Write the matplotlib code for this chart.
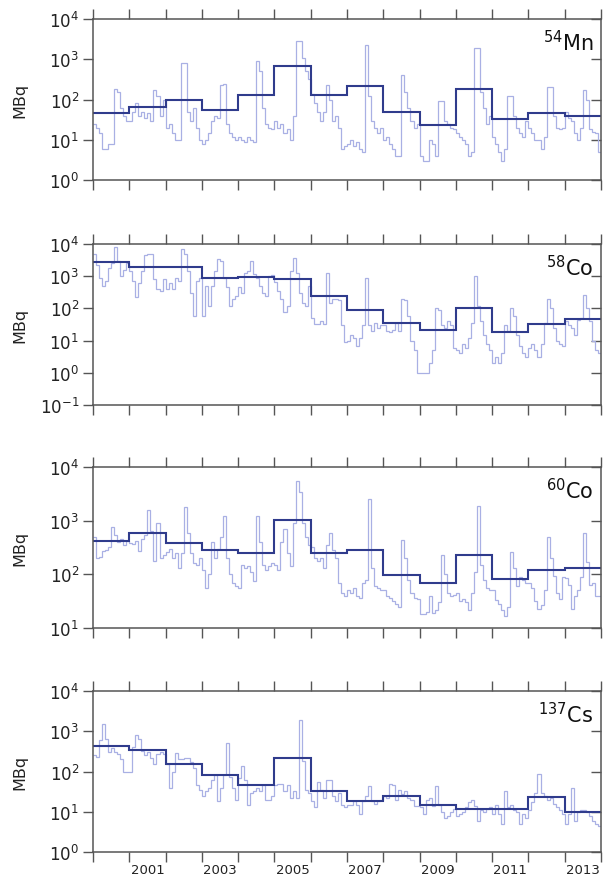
import numpy as np
import matplotlib
matplotlib.use("Agg")
import matplotlib.pyplot as plt
from matplotlib.ticker import LogLocator, FixedLocator, NullFormatter

# data (MBq)
years = list(range(2000, 2014))

# 54Mn
mn54_monthly = [
    25, 20, 15, 6, 6, 8, 8, 180, 150, 60, 40, 30,          # 2000
    30, 50, 80, 40, 50, 35, 45, 30, 170, 120, 40, 100,     # 2001
    20, 25, 15, 10, 10, 800, 800, 50, 30, 60, 20, 10,      # 2002
    8, 10, 15, 30, 40, 35, 230, 240, 25, 15, 12, 10,       # 2003
    12, 10, 9, 12, 10, 9, 900, 500, 60, 25, 20, 18,        # 2004
    30, 20, 25, 15, 18, 10, 40, 2900, 2800, 1100, 500, 330,  # 2005
    140, 80, 50, 30, 50, 230, 100, 30, 40, 20, 6, 7,       # 2006
    8, 10, 7, 9, 6, 5, 2300, 120, 30, 20, 15, 20,          # 2007
    10, 12, 8, 6, 4, 4, 400, 150, 60, 30, 20, 25,          # 2008
    4, 3, 3, 10, 8, 4, 90, 90, 30, 25, 20, 18,             # 2009
    15, 12, 10, 8, 4, 5, 1900, 1900, 150, 60, 25, 40,      # 2010
    12, 8, 5, 3, 6, 120, 120, 40, 20, 15, 12, 30,          # 2011
    20, 15, 10, 10, 6, 12, 200, 200, 40, 20, 18, 20,       # 2012
    50, 35, 30, 15, 10, 20, 170, 100, 18, 16, 15, 5,       # 2013
]
mn54_annual = [45, 65, 95, 56, 130, 680, 130, 220, 50, 23, 180, 32, 45, 40]

# 58Co
co58_monthly = [
    5000, 2200, 900, 500, 700, 1800, 2500, 8000, 3000, 1000, 1600, 2500,
    1500, 700, 220, 600, 1500, 4500, 5000, 5000, 800, 400, 350, 800,
    400, 600, 400, 900, 700, 7000, 5000, 1500, 300, 60, 700, 900,
    60, 500, 120, 500, 1500, 3500, 3000, 900, 450, 120, 200, 250,
    450, 300, 1300, 1400, 3000, 1200, 900, 500, 300, 250, 1000, 1100,
    650, 350, 200, 80, 120, 1400, 3800, 1300, 300, 150, 120, 500,
    50, 33, 33, 40, 33, 1300, 150, 200, 200, 180, 30, 9,
    10, 15, 12, 7, 12, 30, 900, 30, 20, 35, 25, 30,
    30, 20, 18, 22, 35, 20, 200, 180, 60, 10, 5, 1,
    1, 1, 1, 2, 5, 100, 90, 30, 25, 40, 30, 6,
    5, 4, 8, 6, 12, 35, 1000, 120, 40, 15, 8, 5,
    2, 3, 2, 4, 30, 20, 100, 60, 15, 7, 4, 3,
    6, 8, 5, 3, 8, 35, 200, 100, 25, 10, 8, 7,
    40, 30, 25, 15, 45, 50, 270, 100, 40, 10, 5, 4,
]
co58_annual = [2800, 1900, 1950, 850, 960, 790, 250, 90, 35, 22, 100, 19, 32, 47]

# 60Co
co60_monthly = [
    500, 200, 210, 270, 290, 320, 750, 550, 400, 450, 350, 420,
    380, 360, 420, 270, 450, 550, 1600, 650, 180, 900, 200, 230,
    260, 300, 200, 250, 130, 250, 1800, 600, 250, 160, 150, 200,
    120, 55, 100, 400, 200, 300, 500, 1200, 200, 100, 70, 60,
    55, 150, 130, 140, 110, 75, 1200, 400, 150, 120, 140, 160,
    150, 120, 400, 700, 250, 140, 900, 5400, 3400, 900, 500, 350,
    330, 200, 180, 200, 130, 350, 600, 280, 200, 70, 44, 40,
    50, 45, 55, 40, 37, 70, 80, 2500, 130, 60, 55, 50,
    50, 40, 37, 32, 28, 25, 430, 200, 80, 45, 37, 35,
    18, 18, 20, 40, 19, 22, 30, 230, 100, 45, 40, 42,
    45, 32, 35, 30, 22, 45, 110, 1900, 150, 80, 55, 50,
    50, 33, 28, 22, 17, 25, 260, 130, 60, 90, 80, 70,
    70, 55, 32, 23, 27, 50, 500, 200, 95, 45, 35, 90,
    85, 62, 23, 40, 50, 90, 600, 170, 62, 70, 40, 40,
]
co60_annual = [410, 580, 380, 280, 250, 1050, 250, 280, 96, 68, 230, 83, 123, 134]

# 137Cs
cs137_monthly = [
    250, 230, 600, 1500, 650, 300, 380, 300, 280, 200, 100, 100,
    100, 400, 830, 650, 320, 250, 300, 220, 150, 280, 300, 280,
    150, 40, 100, 290, 200, 210, 220, 220, 170, 120, 45, 35,
    25, 32, 40, 60, 80, 18, 40, 80, 510, 75, 40, 20,
    70, 135, 60, 15, 30, 33, 40, 33, 45, 20, 20, 25,
    45, 48, 50, 33, 45, 22, 33, 22, 1950, 180, 35, 30,
    18, 13, 55, 35, 22, 60, 60, 25, 18, 30, 15, 13,
    15, 15, 18, 15, 9, 18, 25, 44, 18, 16, 18, 20,
    25, 22, 49, 45, 20, 35, 28, 33, 22, 20, 14, 14,
    13, 9, 20, 22, 14, 44, 15, 10, 7, 8, 10, 12,
    8, 9, 10, 13, 17, 20, 14, 6, 11, 10, 12, 13,
    9, 15, 9, 5, 33, 13, 15, 11, 10, 5, 9, 7,
    11, 17, 30, 86, 30, 24, 20, 22, 16, 13, 11, 9,
    5, 9, 40, 6, 10, 11, 11, 10, 8, 6, 5, 4.5,
]
cs137_annual = [425, 340, 150, 80, 46, 220, 33, 18, 25, 15, 12, 11.5, 23, 10]

panels = [
    (r"$^{54}$Mn", mn54_monthly, mn54_annual, (1e0, 1e4)),
    (r"$^{58}$Co", co58_monthly, co58_annual, (1e-1, 1e4)),
    (r"$^{60}$Co", co60_monthly, co60_annual, (1e1, 1e4)),
    (r"$^{137}$Cs", cs137_monthly, cs137_annual, (1e0, 1e4)),
]

year_edges = np.array(years + [years[-1] + 1], dtype=float)
month_edges = years[0] + np.arange(len(years) * 12 + 1) / 12.0
label_years = [y for y in years if y % 2 == 1]

W, H = 605, 878
fig = plt.figure(figsize=(W / 100, H / 100), dpi=100)
tops = [20, 245, 468, 692]
ax_h = 161
left, right = 93, 601

light = "#a9b0e4"
dark = "#2f3b8c"
spine_col = "#555555"

for i, (name, monthly, annual, ylim) in enumerate(panels):
    ax = fig.add_axes([left / W, 1 - (tops[i] + ax_h) / H, (right - left) / W, ax_h / H])
    ax.stairs(monthly, month_edges, baseline=None, color=light, lw=0.9)
    ax.stairs(annual, year_edges, baseline=None, color=dark, lw=1.5)
    ax.set_yscale("log")
    ax.set_ylim(*ylim)
    ax.set_xlim(year_edges[0], year_edges[-1])
    ax.yaxis.set_major_locator(LogLocator(base=10, numticks=10))
    ax.yaxis.set_minor_locator(FixedLocator([]))
    ax.xaxis.set_major_locator(FixedLocator(year_edges))
    ax.xaxis.set_major_formatter(NullFormatter())
    for s in ax.spines.values():
        s.set_color(spine_col)
        s.set_linewidth(1.1)
    ax.tick_params(axis="x", which="major", direction="out", length=7, width=1.0,
                   color=spine_col, top=True, bottom=True)
    ax.tick_params(axis="y", which="major", direction="out", length=7, width=1.0,
                   color=spine_col, labelsize=12, pad=3, labelcolor="#222222")
    # inward ticks on the right side
    sec = ax.secondary_yaxis("right")
    sec.yaxis.set_major_locator(LogLocator(base=10, numticks=10))
    sec.yaxis.set_minor_locator(FixedLocator([]))
    sec.yaxis.set_major_formatter(NullFormatter())
    sec.tick_params(direction="in", length=7, width=1.0, color=spine_col)
    sec.spines["right"].set_visible(False)
    ax.set_ylabel("MBq", fontsize=11.5, color="#222222")
    ax.yaxis.set_label_coords(-0.13, 0.5)
    ax.text(0.985, 0.94, name, transform=ax.transAxes, ha="right", va="top",
            fontsize=15, color="#111111")
    if i == len(panels) - 1:
        ax.set_xticks([y + 0.5 for y in label_years], [str(y) for y in label_years], minor=True)
        ax.tick_params(axis="x", which="minor", length=0, labelsize=9.5, pad=8,
                       labelcolor="#222222")
    else:
        ax.xaxis.set_minor_locator(FixedLocator([]))

fig.savefig("out.png", dpi=100)
